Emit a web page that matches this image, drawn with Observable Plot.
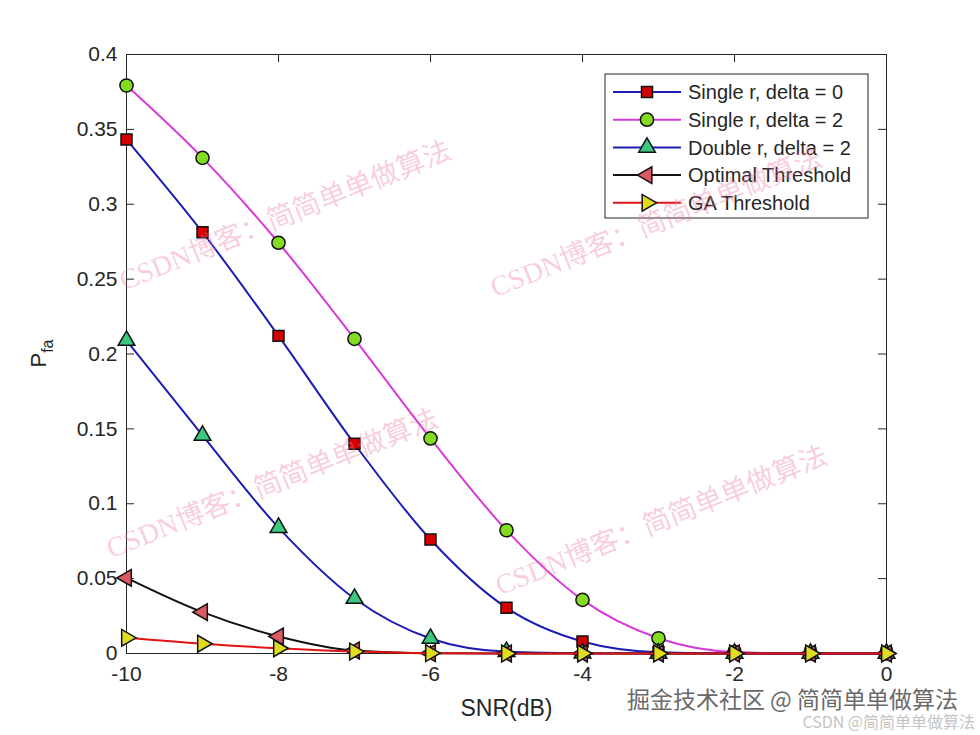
<!DOCTYPE html>
<html><head><meta charset="utf-8">
<script src="https://cdn.jsdelivr.net/npm/d3@7"></script>
<script src="https://cdn.jsdelivr.net/npm/@observablehq/plot@0.6"></script>
<style>
html,body{margin:0;padding:0;background:#fff;}
#chart{width:980px;height:735px;}
</style></head><body><div id="chart"></div>
<script>
// ---- data ----
const snr = [-10,-9,-8,-7,-6,-5,-4,-3,-2,-1,0];
const singleDelta0 = [0.3432,0.2813,0.2121,0.1400,0.0761,0.0305,0.0080,0.0008,0,0,0];
const singleDelta2 = [0.3793,0.3310,0.2743,0.2101,0.1436,0.0823,0.0358,0.0102,0.0010,0,0];
const doubleDelta2 = [0.2090,0.1456,0.0841,0.0367,0.0100,0.0012,0.0002,0,0,0,0];
const optimalThreshold = [0.0505,0.0276,0.0114,0.0020,0.0002,0,0,0,0,0,0];
const gaThreshold = [0.0105,0.0065,0.0035,0.0013,0.0002,0,0,0,0,0,0];
const seriesNames = ["Single r, delta = 0","Single r, delta = 2","Double r, delta = 2","Optimal Threshold","GA Threshold"];
const xTicks = [-10,-8,-6,-4,-2,0];
const xTickLabels = ["-10","-8","-6","-4","-2","0"];
const yTicks = [0,0.05,0.1,0.15,0.2,0.25,0.3,0.35,0.4];
const yTickLabels = ["0","0.05","0.1","0.15","0.2","0.25","0.3","0.35","0.4"];
const xLabel = "SNR(dB)";
const yLabelMain = "P", yLabelSub = "fa";
const watermarkText = "CSDN博客：简简单单做算法";
const footerMain = "掘金技术社区 @ 简简单单做算法";
const footerSub = "CSDN @简简单单做算法";

// ---- custom marker shapes ----
const sqrt3 = Math.sqrt(3);
const triangleLeft = {draw(ctx, size){ const y = -Math.sqrt(size/(sqrt3*3)); ctx.moveTo(y*2,0); ctx.lineTo(-y, sqrt3*y); ctx.lineTo(-y,-sqrt3*y); ctx.closePath(); }};
const triangleRight = {draw(ctx, size){ const y = -Math.sqrt(size/(sqrt3*3)); ctx.moveTo(-y*2,0); ctx.lineTo(y, sqrt3*y); ctx.lineTo(y,-sqrt3*y); ctx.closePath(); }};
const triangleUp = d3.symbolTriangle;

const valuesList = [singleDelta0, singleDelta2, doubleDelta2, optimalThreshold, gaThreshold];
const styles = [
  {line:"#1c1cb4", fill:"#d40000", symbol:d3.symbolSquare, r:6.2},
  {line:"#d83ad8", fill:"#84dc22", symbol:d3.symbolCircle, r:6.6},
  {line:"#1c1cb4", fill:"#3cc880", symbol:triangleUp, r:6.2},
  {line:"#111111", fill:"#dc5862", symbol:triangleLeft, r:6.2},
  {line:"#e01414", fill:"#e0dc20", symbol:triangleRight, r:6.2}
];

const W = 980, H = 735, mL = 126, mR = 94, mT = 54, mB = 82;
const pw = W - mL - mR, ph = H - mT - mB, tl = 8;
const axisColor = "#262626";
const sans = "'Liberation Sans', Arial, sans-serif";

const marks = [];
// inner ticks (MATLAB style)
marks.push(Plot.tickY(yTicks, {y: d => d, insetRight: pw - tl, stroke: axisColor}));
marks.push(Plot.tickY(yTicks, {y: d => d, insetLeft: pw - tl, stroke: axisColor}));
marks.push(Plot.tickX(xTicks, {x: d => d, insetTop: ph - tl, stroke: axisColor}));
marks.push(Plot.tickX(xTicks, {x: d => d, insetBottom: ph - tl, stroke: axisColor}));
marks.push(Plot.axisX({ticks: xTicks, tickSize: 0, tickPadding: 13, fontSize: 21, label: null, fill: axisColor,
  tickFormat: d => xTickLabels[xTicks.indexOf(d)]}));
marks.push(Plot.axisY({ticks: yTicks, tickSize: 0, tickPadding: 9, fontSize: 21, label: null, fill: axisColor,
  tickFormat: d => yTickLabels[yTicks.findIndex(t => Math.abs(t - d) < 1e-9)]}));
marks.push(Plot.text([xLabel], {frameAnchor: "bottom", dy: 62, fontSize: 23, fill: axisColor}));
marks.push(Plot.frame({stroke: axisColor, strokeWidth: 1}));

valuesList.forEach((vals, k) => {
  const s = styles[k];
  const data = snr.map((x, i) => ({x, y: vals[i]}));
  marks.push(Plot.line(data, {x: "x", y: "y", stroke: s.line, strokeWidth: 2, curve: "monotone-x"}));
  marks.push(Plot.dot(data, {x: "x", y: "y", symbol: s.symbol, r: s.r, fill: s.fill, stroke: "#111", strokeWidth: 1.5}));
});

const plot = Plot.plot({
  width: W, height: H,
  marginLeft: mL, marginRight: mR, marginTop: mT, marginBottom: mB,
  x: {domain: [-10, 0]},
  y: {domain: [0, 0.4]},
  style: {fontFamily: sans, background: "white", overflow: "visible"},
  marks
});
document.getElementById("chart").appendChild(plot);

const svg = d3.select(plot);

// y label with subscript
const yl = svg.append("text")
  .attr("transform", `translate(46,${mT + ph/2}) rotate(-90)`)
  .attr("text-anchor", "middle")
  .attr("font-family", sans)
  .attr("fill", axisColor);
yl.append("tspan").attr("font-size", 22).text(yLabelMain);
yl.append("tspan").attr("font-size", 16).attr("dy", 7).text(yLabelSub);

// legend
const lg = svg.append("g").attr("font-family", sans).attr("text-anchor", "start");
lg.append("rect").attr("x", 605).attr("y", 74).attr("width", 263).attr("height", 144)
  .attr("fill", "white").attr("stroke", axisColor).attr("stroke-width", 1);
seriesNames.forEach((name, i) => {
  const s = styles[i];
  const cy = 92 + i * 27.7;
  lg.append("line").attr("x1", 613).attr("x2", 681).attr("y1", cy).attr("y2", cy)
    .attr("stroke", s.line).attr("stroke-width", 2);
  lg.append("path").attr("d", d3.symbol(s.symbol, s.r * s.r * Math.PI)())
    .attr("transform", `translate(647,${cy})`).attr("fill", s.fill).attr("stroke", "#111").attr("stroke-width", 1.5);
  lg.append("text").attr("x", 688).attr("y", cy).attr("dy", "0.36em").attr("font-size", 20)
    .attr("text-anchor", "start").attr("fill", axisColor).text(name);
});

// watermarks
const wm = svg.append("g")
  .attr("font-family", "'Liberation Serif', 'Noto Sans CJK SC', serif")
  .attr("font-size", 28).attr("fill", "#ee7aa4").attr("fill-opacity", 0.38).attr("text-anchor", "middle");
[[285,215],[656,222],[272,483],[661,520]].forEach(([cx, cy]) => {
  wm.append("text").attr("transform", `translate(${cx},${cy}) rotate(-22)`).attr("dy", "0.35em").text(watermarkText);
});

svg.append("text").attr("x", 958).attr("y", 700).attr("dy", "0.35em").attr("text-anchor", "end")
  .attr("font-family", "'Noto Sans CJK SC', sans-serif").attr("font-size", 23)
  .attr("fill", "#6a6a6a").attr("stroke", "white").attr("stroke-width", 3).attr("paint-order", "stroke")
  .text(footerMain);
svg.append("text").attr("x", 975).attr("y", 722).attr("dy", "0.35em").attr("text-anchor", "end")
  .attr("font-family", "'Noto Sans CJK SC', sans-serif").attr("font-size", 16)
  .attr("fill", "#c4c4c4").text(footerSub);
</script></body></html>
